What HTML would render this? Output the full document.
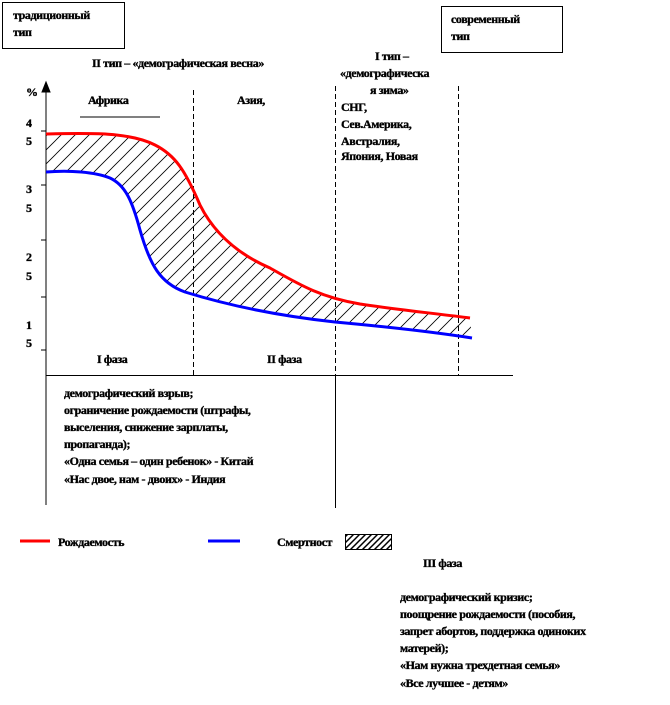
<!DOCTYPE html>
<html><head><meta charset="utf-8"><style>
body{margin:0;background:#fff}
svg text{font-family:"Liberation Serif","DejaVu Serif",serif;font-weight:bold;font-size:12px;letter-spacing:-0.4px;fill:#000;stroke:#000;stroke-width:0.35}
</style></head><body>
<svg width="670" height="700" viewBox="0 0 670 700" xmlns="http://www.w3.org/2000/svg">
<defs>
<pattern id="h" width="14" height="14" patternUnits="userSpaceOnUse">
<path d="M0 14 L14 0 M-7 7 L7 -7 M7 21 L21 7" stroke="#000" stroke-width="0.8"/>
</pattern>
<pattern id="h2" width="6" height="6" patternUnits="userSpaceOnUse">
<path d="M0 6 L6 0 M-3 3 L3 -3 M3 9 L9 3" stroke="#000" stroke-width="1.5"/>
</pattern>
<clipPath id="c"><path d="M46 134 C90 133,130 132,155 145 C175 155,185 170,200 205 C215 235,240 255,270 268 C300 285,320 297,360 304 C400 310,440 314,470 318 L472 338 C440 333,400 328,335 322 C280 316,230 306,185 292 C160 283,150 265,140 230 C132 200,125 185,110 178 C95 172,70 170,46 172 Z"/></clipPath>
</defs>
<rect x="2.5" y="2.5" width="122" height="46" fill="none" stroke="#000"/>
<text x="13" y="19">традиционный</text><text x="13" y="36">тип</text>
<rect x="441.5" y="6.5" width="121" height="46" fill="none" stroke="#000"/>
<text x="451" y="23">современный</text><text x="451" y="40">тип</text>
<text x="92" y="67">II тип – «демографическая весна»</text>
<text x="375" y="60">I тип –</text>
<text x="340" y="77">«демографическа</text>
<text x="370" y="94">я зима»</text>
<text x="341" y="111">СНГ,</text>
<text x="341" y="128">Сев.Америка,</text>
<text x="341" y="145">Австралия,</text>
<text x="341" y="160" font-size="9">Япония, Новая</text>
<text x="88" y="104">Африка</text>
<path d="M80 117H160" stroke="#000"/>
<text x="237" y="104">Азия,</text>
<text x="26" y="96">%</text>
<path d="M46 375 V87 M42 92 L46 82 L50 92 Z" stroke="#000" fill="#000"/>
<g stroke="#000"><path d="M41 131H46M41 185H46M41 240H46M41 297H46M41 350H46"/></g>
<text x="26" y="127">4</text><text x="26" y="145">5</text>
<text x="26" y="193">3</text><text x="26" y="212">5</text>
<text x="26" y="261">2</text><text x="26" y="280">5</text>
<text x="26" y="329">1</text><text x="26" y="347">5</text>
<g stroke="#000" stroke-dasharray="5,3"><path d="M193.5 90V375M335.5 86V375M458.5 86V375"/></g>
<path d="M46 375.5H513M335.5 375V508M46 375V505" stroke="#000"/>
<rect x="40" y="120" width="440" height="230" fill="url(#h)" clip-path="url(#c)"/>
<path d="M46 134 C90 133,130 132,155 145 C175 155,185 170,200 205 C215 235,240 255,270 268 C300 285,320 297,360 304 C400 310,440 314,470 318" fill="none" stroke="#f00" stroke-width="3"/>
<path d="M46 172 C70 170,95 172,110 178 C125 185,132 200,140 230 C150 265,160 283,185 292 C230 306,280 316,335 322 C400 328,440 333,472 338" fill="none" stroke="#00f" stroke-width="3"/>
<text x="97" y="363">I фаза</text><text x="267" y="363">II фаза</text>
<text x="64" y="397">демографический взрыв;</text>
<text x="64" y="414">ограничение  рождаемости (штрафы,</text>
<text x="64" y="431">выселения, снижение  зарплаты,</text>
<text x="64" y="448">пропаганда);</text>
<text x="64" y="465">«Одна семья – один ребенок» - Китай</text>
<text x="64" y="483">«Нас двое, нам - двоих»  - Индия</text>
<path d="M20 541H50" stroke="#f00" stroke-width="3"/>
<text x="58" y="546">Рождаемость</text>
<path d="M208 541H240" stroke="#00f" stroke-width="3"/>
<text x="277" y="546">Смертност</text>
<rect x="345.5" y="534.5" width="46" height="15" fill="url(#h2)" stroke="#000"/>
<text x="423" y="567">III фаза</text>
<text x="400" y="601">демографический кризис;</text>
<text x="400" y="618">поощрение  рождаемости (пособия,</text>
<text x="400" y="635">запрет абортов, поддержка одиноких</text>
<text x="400" y="652">матерей);</text>
<text x="400" y="669">«Нам нужна  трехдетная семья»</text>
<text x="400" y="687">«Все лучшее - детям»</text>
</svg>
</body></html>
